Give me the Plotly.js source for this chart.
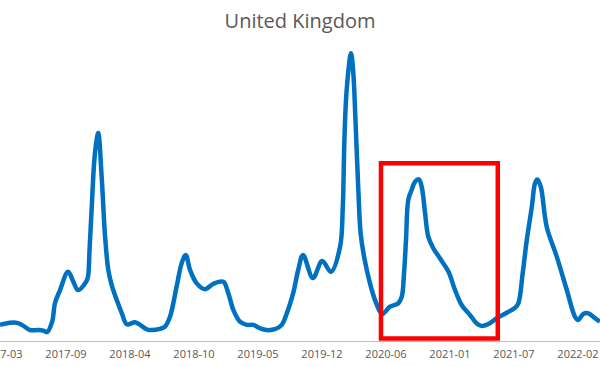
<!DOCTYPE html>
<html>
<head>
<meta charset="utf-8">
<script src="https://cdn.plot.ly/plotly-3.0.1.min.js"></script>
<style>html,body{margin:0;padding:0;background:#fff;}#chart{width:600px;height:367px;}</style>
</head>
<body>
<div id="chart"></div>
<script>
// Week index (0 = first labelled week, 2017-03) and search interest
var weeks = [-0.9, 3.5, 6.6, 8.75, 12.25, 15.75, 18.4, 19.7, 21.9, 23.2, 25.4, 28.9, 31.2, 33.25, 36.75, 37.6, 38.3, 39.2, 40.4, 41.4, 42.1, 43.6, 45.1, 46.5, 48.0, 50.2, 52.4, 54.6, 58.2, 60.4, 63.3, 64.75, 69.1, 71.3, 73.5, 76.4, 78.6, 80.4, 82.25, 85.2, 88.8, 92.4, 96.8, 99.0, 101.2, 104.1, 107.1, 109.9, 112.9, 115.8, 119.4, 122.4, 124.6, 127.4, 129.6, 131.7, 136.0, 140.1, 143.9, 147.9, 149.1, 149.8, 150.8, 152.7, 153.7, 154.7, 155.9, 156.9, 158.4, 161.0, 163.2, 165.4, 166.5, 169.75, 173.4, 174.9, 175.9, 176.75, 177.75, 179.2, 180.7, 182.4, 183.6, 185.1, 186.5, 188.7, 191.6, 195.3, 198.2, 201.1, 204.75, 207.7, 209.9, 212.8, 216.4, 220.8, 224.4, 225.9, 227.8, 229.6, 231.8, 233.2, 234.2, 235.7, 238.3, 242.7, 247.1, 250.7, 252.1, 254.3, 256.5, 258.7, 261.6];
var interest = [5.6, 6.3, 6.3, 5.6, 3.8, 3.8, 3.5, 3.1, 6.6, 13.2, 17.7, 24.0, 20.6, 17.7, 20.5, 22.2, 31.6, 45.5, 62.8, 69.8, 72.2, 57.0, 36.2, 24.7, 19.4, 14.2, 9.7, 5.8, 6.5, 5.6, 4.1, 3.8, 4.2, 5.0, 8.4, 18.9, 27.0, 29.9, 24.7, 20.0, 18.0, 19.8, 20.6, 16.6, 10.8, 6.7, 5.6, 5.6, 4.4, 3.8, 4.1, 5.6, 9.6, 16.6, 24.7, 29.9, 21.9, 27.8, 24.0, 32.7, 46.6, 69.8, 87.2, 99.9, 93.0, 75.6, 52.4, 37.4, 29.3, 20.0, 14.2, 10.2, 9.4, 11.9, 13.1, 15.4, 23.6, 35.1, 49.0, 52.4, 55.3, 56.1, 53.6, 44.3, 36.2, 32.2, 28.7, 24.1, 17.7, 12.5, 9.0, 6.1, 5.2, 5.9, 7.9, 9.8, 11.5, 13.1, 23.5, 35.1, 46.6, 54.8, 56.1, 53.6, 39.7, 29.3, 17.7, 8.4, 7.3, 9.4, 9.6, 8.4, 6.7];
var tickWeeks = [0, 28, 56, 84, 112, 140, 168, 196, 224, 252];
var tickLabels = ["2017-03", "2017-09", "2018-04", "2018-10", "2019-05", "2019-12", "2020-06", "2021-01", "2021-07", "2022-02"];

var trace = {
  x: weeks, y: interest, type: 'scatter', mode: 'lines',
  line: {color: '#0070c0', width: 4.5, shape: 'spline', smoothing: 1},
  hoverinfo: 'skip'
};
var layout = {
  width: 600, height: 367,
  margin: {l: 0, r: 0, t: 40, b: 26, pad: 0},
  paper_bgcolor: '#ffffff', plot_bgcolor: '#ffffff',
  showlegend: false,
  title: {text: 'United Kingdom', x: 0.5, xanchor: 'center', y: 0.943, yanchor: 'middle',
          font: {family: 'Open Sans, sans-serif', size: 20, color: '#595959'}},
  xaxis: {
    range: [-0.875, 261.625], showgrid: false, zeroline: false,
    showline: true, linecolor: '#bfbfbf', linewidth: 1,
    tickmode: 'array', tickvals: tickWeeks, ticktext: tickLabels,
    ticks: '', ticklabeloverflow: 'allow', ticklabelstandoff: 3,
    tickfont: {family: 'Open Sans, sans-serif', size: 11, color: '#595959'}
  },
  yaxis: {range: [0, 104.5], visible: false, showgrid: false, zeroline: false, fixedrange: true},
  shapes: [{
    type: 'rect', xref: 'x', yref: 'y',
    x0: 165.8, x1: 216.9, y0: 0.9, y1: 61.7,
    line: {color: '#ff0000', width: 4.5}, fillcolor: 'rgba(0,0,0,0)'
  }]
};
Plotly.newPlot('chart', [trace], layout, {staticPlot: true, displayModeBar: false});
</script>
</body>
</html>
